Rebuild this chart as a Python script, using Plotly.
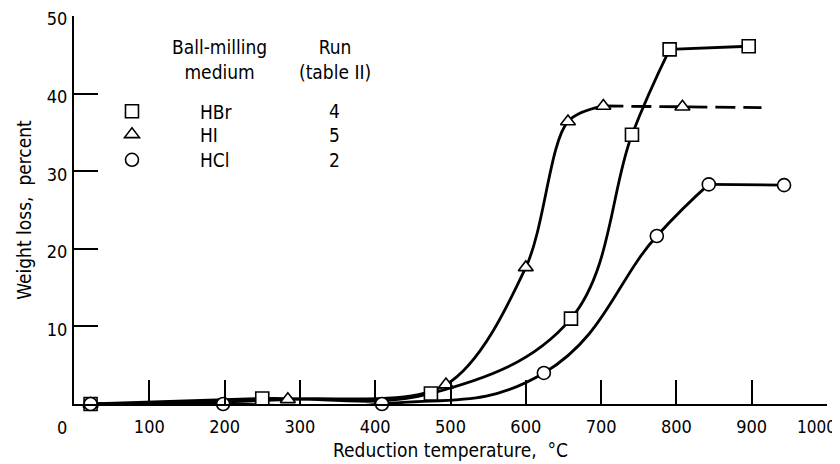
import plotly.graph_objects as go

# ---- data ----
hbr_x = [22, 250, 474, 660, 741, 791, 896]
hbr_y = [0.0, 0.7, 1.35, 11.0, 34.7, 45.7, 46.1]

hi_x = [22, 284, 494, 600, 656, 703, 808]
hi_y = [0.0, 0.6, 2.5, 17.6, 36.4, 38.4, 38.3]
hi_dash_end_x = 913          # end of the dashed extrapolation
hi_dash_end_y = 38.2

hcl_x = [22, 198, 409, 624, 774, 843, 943]
hcl_y = [0.0, 0.0, 0.0, 4.0, 21.65, 28.3, 28.2]

media = ["HBr", "HI", "HCl"]
runs = ["4", "5", "2"]
symbols = ["square", "triangle-up", "circle"]

x_ticks = [0, 100, 200, 300, 400, 500, 600, 700, 800, 900, 1000]
y_ticks = [10, 20, 30, 40, 50]

FONT = "Liberation Sans Narrow, DejaVu Sans Condensed, Arial Narrow, sans-serif"
LW = 2.8

fig = go.Figure()

def curve(x, y, dash="solid", shape="spline", smoothing=1.1):
    fig.add_trace(go.Scatter(x=x, y=y, mode="lines",
                             line=dict(color="black", width=LW, shape=shape,
                                       smoothing=smoothing, dash=dash),
                             showlegend=False, hoverinfo="skip", cliponaxis=False))

# HBr: rising curve, then straight plateau
curve(hbr_x[:6], hbr_y[:6])
curve(hbr_x[5:], hbr_y[5:], shape="linear")
# HI: solid curve up to 703 C, dashed plateau beyond
curve(hi_x[:6], hi_y[:6], smoothing=0.9)
curve([hi_x[5], hi_x[6], hi_dash_end_x], [hi_y[5], hi_y[6], hi_dash_end_y],
      dash="20px,8px", shape="linear")
# HCl
curve(hcl_x[:6], hcl_y[:6], smoothing=1.3)
curve(hcl_x[5:], hcl_y[5:], shape="linear")

legend_y = [0.7540, 0.6945, 0.6290]
series = [(hbr_x, hbr_y), (hi_x, hi_y), (hcl_x, hcl_y)]
for i, ((xs, ys), name, sym) in enumerate(zip(series, media, symbols)):
    lg = "legend" if i == 0 else f"legend{i+1}"
    fig.add_trace(go.Scatter(
        x=xs, y=ys, mode="markers", name=name, legend=lg,
        marker=dict(symbol=sym, size=13, color="white",
                    line=dict(color="black", width=1.6)),
        cliponaxis=False))

leg_common = dict(font=dict(family=FONT, size=19, color="black"),
                  itemwidth=126, bgcolor="rgba(0,0,0,0)", borderwidth=0,
                  xanchor="left", yanchor="middle", x=-0.0133)
fig.update_layout(legend=dict(y=legend_y[0], **leg_common),
                  legend2=dict(y=legend_y[1], **leg_common),
                  legend3=dict(y=legend_y[2], **leg_common))

ann = [
    dict(text="Ball-milling<br>medium", x=0.1926, y=0.8870),
    dict(text="Run<br>(table II)", x=0.3466, y=0.8870),
]
for r, yy in zip(runs, legend_y):
    ann.append(dict(text=r, x=0.3466, y=yy))
annotations = []
for a in ann:
    annotations.append(dict(xref="paper", yref="paper", showarrow=False,
                            xanchor="center", yanchor="middle",
                            font=dict(family=FONT, size=19, color="black"), **a))
# end tick labels "0" and "1000" sit slightly off their ticks
annotations.append(dict(xref="x", yref="y", x=x_ticks[0], y=0, text=str(x_ticks[0]),
                        showarrow=False, xshift=-12, yshift=-23,
                        font=dict(family=FONT, size=18, color="black")))
annotations.append(dict(xref="x", yref="y", x=x_ticks[-1], y=0, text=str(x_ticks[-1]),
                        showarrow=False, xanchor="right", xshift=11, yshift=-23,
                        font=dict(family=FONT, size=17, color="black")))

mid_ticks = x_ticks[1:-1]
fig.update_layout(
    width=832, height=456,
    margin=dict(l=66, r=13, t=8, b=60, autoexpand=False),
    paper_bgcolor="white", plot_bgcolor="white",
    font=dict(family=FONT, size=18, color="black"),
    annotations=annotations,
    xaxis=dict(range=[0, 1000], tickvals=x_ticks[1:],
               ticktext=[str(v) for v in mid_ticks] + [""],
               ticks="inside", ticklen=24, tickwidth=1.6, tickcolor="black",
               showline=True, linewidth=2, linecolor="black", showgrid=False, zeroline=False,
               ticklabelstandoff=5, ticklabeloverflow="allow", automargin=False,
               title=dict(text="Reduction temperature,  °C", standoff=8,
                          font=dict(family=FONT, size=19))),
    yaxis=dict(range=[0, 50], tickvals=y_ticks, ticktext=[str(v) for v in y_ticks],
               ticks="inside", ticklen=24, tickwidth=1.6, tickcolor="black",
               showline=True, linewidth=2, linecolor="black", showgrid=False, zeroline=False,
               ticklabelstandoff=1, ticklabelshift=3, ticklabeloverflow="allow",
               automargin=False,
               title=dict(text="Weight loss,  percent", standoff=10,
                          font=dict(family=FONT, size=19))),
)

fig.write_html("out.html")
